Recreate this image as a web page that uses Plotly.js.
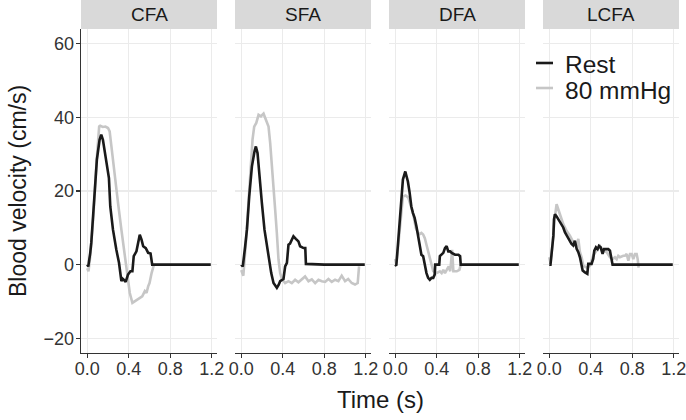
<!DOCTYPE html>
<html>
<head>
<meta charset="utf-8">
<script src="https://cdn.plot.ly/plotly-3.0.1.min.js"></script>
<style>html,body{margin:0;padding:0;background:#fff;}#chart{width:686px;height:420px;}</style>
</head>
<body>
<div id="chart"></div>
<script>
// Panels (facets)
const panels = ["CFA", "SFA", "DFA", "LCFA"];
const seriesNames = ["Rest", "80 mmHg"];

// CFA
const cfaRestT = [0, 0.01, 0.029, 0.039, 0.054, 0.071, 0.093, 0.119, 0.135, 0.151, 0.168, 0.184, 0.209, 0.222, 0.248, 0.28, 0.306, 0.329, 0.34, 0.351, 0.37, 0.393, 0.416, 0.435, 0.448, 0.474, 0.494, 0.506, 0.523, 0.539, 0.564, 0.587, 0.61, 0.62, 0.626, 0.8, 1.0, 1.19];
const cfaRestV = [0, -0.5, 3.2, 5.9, 12.2, 19.5, 28.5, 33.9, 35.3, 33.9, 30.5, 27.6, 23.5, 15.8, 9.5, 4.1, 0.5, -4.5, -3.8, -4.1, -4.7, -2.7, -1.8, -1.8, 2.3, 3.6, 6.8, 8.1, 6.8, 5.0, 4.5, 3.2, 3.0, 0.5, 0, 0, 0, 0];
const cfa80T = [0, 0.012, 0.03, 0.06, 0.09, 0.105, 0.115, 0.125, 0.15, 0.175, 0.2, 0.216, 0.232, 0.264, 0.297, 0.329, 0.361, 0.387, 0.41, 0.435, 0.458, 0.48, 0.506, 0.53, 0.555, 0.571, 0.587, 0.6, 0.62, 0.64];
const cfa80V = [-1.0, -1.8, 2.5, 13.5, 28.0, 34.0, 37.5, 37.7, 37.4, 37.5, 37.1, 36.2, 32.1, 24.9, 16.7, 9.5, 3.2, -2.3, -7.7, -10.4, -10.0, -9.5, -9.1, -8.6, -7.2, -7.7, -5.9, -5.0, -2.3, -0.3];

// SFA
const sfaRestT = [0, 0.015, 0.038, 0.055, 0.077, 0.103, 0.128, 0.141, 0.157, 0.176, 0.199, 0.224, 0.257, 0.289, 0.311, 0.343, 0.36, 0.375, 0.407, 0.423, 0.44, 0.455, 0.47, 0.487, 0.503, 0.526, 0.551, 0.567, 0.6, 0.617, 0.623, 0.8, 1.0, 1.19];
const sfaRestV = [0, -0.5, 5.0, 9.5, 18.5, 26.7, 30.8, 32.1, 30.3, 23.1, 16.7, 9.5, 3.2, -2.3, -5.0, -6.3, -5.5, -4.5, -3.9, -0.5, 0.5, 5.4, 5.7, 7.0, 7.7, 7.0, 6.3, 5.0, 4.5, 4.5, 0.2, 0, 0, 0];
const sfa80T = [0, 0.02, 0.045, 0.07, 0.09, 0.109, 0.125, 0.145, 0.167, 0.19, 0.215, 0.24, 0.263, 0.279, 0.295, 0.311, 0.327, 0.343, 0.359, 0.375, 0.391, 0.423, 0.455, 0.487, 0.519, 0.551, 0.583, 0.615, 0.648, 0.68, 0.712, 0.744, 0.776, 0.808, 0.84, 0.872, 0.904, 0.936, 0.968, 1.0, 1.03, 1.064, 1.096, 1.122, 1.135];
const sfa80V = [-1.5, -3.0, 6, 17, 26, 34, 37.5, 38.5, 40.7, 40.3, 41.0, 39.0, 37.5, 33.0, 27.6, 21.3, 14.9, 8.6, 1.4, -2.3, -3.9, -5.0, -4.5, -5.0, -4.1, -4.8, -4.1, -3.2, -4.5, -4.0, -5.0, -4.1, -4.5, -4.7, -3.9, -4.7, -4.1, -4.5, -3.0, -4.5, -3.9, -5.0, -5.4, -5.0, -0.5];

// DFA
const dfaRestT = [0, 0.01, 0.025, 0.042, 0.058, 0.074, 0.097, 0.122, 0.139, 0.155, 0.171, 0.187, 0.204, 0.22, 0.236, 0.252, 0.269, 0.285, 0.301, 0.317, 0.333, 0.35, 0.366, 0.38, 0.385, 0.398, 0.424, 0.43, 0.463, 0.479, 0.495, 0.511, 0.528, 0.544, 0.56, 0.576, 0.609, 0.625, 0.631, 0.8, 1.0, 1.19];
const dfaRestV = [0, -0.3, 5.0, 12.2, 18.5, 23.1, 25.3, 22.6, 19.5, 15.8, 14.0, 12.7, 10.4, 8.0, 5.4, 2.7, 2.3, -0.5, -2.3, -3.6, -4.1, -3.6, -3.6, -2.7, 0, 0, 0, 2.3, 3.2, 4.5, 5.0, 3.6, 3.6, 3.2, 3.0, 2.7, 2.7, 2.3, 0, 0, 0, 0];
const dfa80T = [0, 0.01, 0.03, 0.05, 0.074, 0.1, 0.126, 0.155, 0.175, 0.198, 0.22, 0.236, 0.252, 0.269, 0.285, 0.301, 0.317, 0.333, 0.35, 0.366, 0.398, 0.43, 0.447, 0.463, 0.479, 0.495, 0.515, 0.53, 0.548, 0.56, 0.593, 0.618, 0.631];
const dfa80V = [1.5, 0, 5.5, 12, 18.5, 18.8, 18.2, 15.5, 13.5, 10.0, 8.6, 8.3, 8.6, 8.2, 7.2, 5.4, 3.6, 1.8, -0.5, -1.8, -2.3, -1.8, -2.3, -1.4, -2.3, -1.4, -0.5, -1.8, 4.0, -1.8, -1.8, -1.4, 0];

// LCFA
const lcfaRestT = [0, 0.012, 0.024, 0.04, 0.046, 0.055, 0.071, 0.087, 0.103, 0.119, 0.135, 0.151, 0.167, 0.183, 0.199, 0.215, 0.231, 0.247, 0.264, 0.28, 0.296, 0.312, 0.322, 0.344, 0.367, 0.376, 0.408, 0.424, 0.434, 0.45, 0.466, 0.479, 0.495, 0.514, 0.527, 0.547, 0.569, 0.585, 0.601, 0.61, 0.8, 1.0, 1.19];
const lcfaRestV = [0, 0, 3.3, 7.8, 12.3, 13.7, 13.1, 12.4, 11.5, 11.0, 10.1, 8.8, 7.9, 7.0, 6.1, 5.6, 5.2, 6.5, 4.3, 3.4, 2.0, 0.2, -1.6, -2.1, -2.5, 0.2, 0.2, 1.6, 3.8, 4.7, 4.2, 5.1, 4.7, 2.9, 4.2, 4.2, 4.2, 3.8, 0.6, 0, 0, 0, 0];
const lcfa80T = [0, 0.012, 0.03, 0.05, 0.071, 0.087, 0.103, 0.135, 0.167, 0.199, 0.231, 0.264, 0.28, 0.296, 0.312, 0.328, 0.36, 0.392, 0.424, 0.456, 0.488, 0.52, 0.553, 0.585, 0.61, 0.633, 0.65, 0.665, 0.681, 0.713, 0.729, 0.746, 0.762, 0.778, 0.794, 0.81, 0.826, 0.842, 0.852, 0.861];
const lcfa80V = [2.0, 0.5, 5, 12, 16.4, 15.1, 13.7, 11.0, 9.2, 7.9, 6.1, 5.2, 7.0, 3.4, 2.0, -0.3, -0.8, -0.3, 2.5, 3.8, 5.1, 3.8, 3.4, 2.0, 1.5, 2.0, 1.5, 2.4, 2.0, 2.4, 2.4, 2.9, 1.1, 2.9, 2.9, 1.5, 2.9, 2.9, 1.5, -0.8];

// Axis ticks
const xTicks = [0, 0.4, 0.8, 1.2];
const yTicks = [-20, 0, 20, 40, 60];

const restData = [[cfaRestT, cfaRestV], [sfaRestT, sfaRestV], [dfaRestT, dfaRestV], [lcfaRestT, lcfaRestV]];
const highData = [[cfa80T, cfa80V], [sfa80T, sfa80V], [dfa80T, dfa80V], [lcfa80T, lcfa80V]];

const FONT = "'Liberation Sans', Arial, sans-serif";
const restColor = "#1a1a1a";
const highColor = "#c6c6c6";
const seriesColors = [restColor, highColor];
const gridColor = "#ebebeb";

const W = 686, H = 420;
const M = {l: 81, r: 7, t: 29, b: 67};
const pw = W - M.l - M.r, ph = H - M.t - M.b;
const panelPx = [[81, 217], [235, 371], [389, 525], [543, 679]];
const domains = panelPx.map(p => [(p[0] - M.l) / pw, (p[1] - M.l) / pw]);
const px2x = px => (px - M.l) / pw;
const py2y = py => 1 - (py - M.t) / ph;

const traces = [];
panels.forEach((p, i) => {
  const xa = i === 0 ? "x" : "x" + (i + 1);
  const ya = i === 0 ? "y" : "y" + (i + 1);
  traces.push({
    x: highData[i][0], y: highData[i][1], xaxis: xa, yaxis: ya,
    type: "scatter", mode: "lines", name: seriesNames[1], showlegend: false,
    line: {color: highColor, width: 2.6}
  });
});
panels.forEach((p, i) => {
  const xa = i === 0 ? "x" : "x" + (i + 1);
  const ya = i === 0 ? "y" : "y" + (i + 1);
  traces.push({
    x: restData[i][0], y: restData[i][1], xaxis: xa, yaxis: ya,
    type: "scatter", mode: "lines", name: seriesNames[0], showlegend: false,
    line: {color: restColor, width: 2.6}
  });
});

const layout = {
  width: W, height: H,
  margin: M,
  paper_bgcolor: "#fff", plot_bgcolor: "#fff",
  font: {family: FONT, color: "#333", size: 18},
  showlegend: false,
  shapes: [], annotations: []
};

panels.forEach((p, i) => {
  const sx = i === 0 ? "" : String(i + 1);
  layout["xaxis" + sx] = {
    domain: domains[i], anchor: "y" + sx, range: [-0.06, 1.25],
    tickvals: xTicks, tickformat: ".1f",
    showgrid: true, gridcolor: gridColor, gridwidth: 1.2, zeroline: false,
    showline: true, linecolor: "#333", linewidth: 1.3,
    ticks: "outside", ticklen: 4, tickcolor: "#333", tickwidth: 1.2,
    ticklabelstandoff: -5, ticklabeloverflow: "allow",
    tickfont: {size: 18, color: "#333", family: FONT}, fixedrange: true
  };
  const yax = {
    domain: [0, 1], anchor: "x" + sx, range: [-24, 64],
    tickvals: yTicks,
    showgrid: true, gridcolor: gridColor, gridwidth: 1.2, zeroline: false,
    fixedrange: true
  };
  if (i === 0) {
    Object.assign(yax, {
      showline: true, linecolor: "#333", linewidth: 1.3,
      ticks: "outside", ticklen: 4, tickcolor: "#333", tickwidth: 1.2,
      ticklabelstandoff: -2,
      tickfont: {size: 18, color: "#333", family: FONT},
      title: {text: "Blood velocity (cm/s)", font: {size: 23, color: "#1a1a1a", family: FONT}, standoff: 10}
    });
  } else {
    Object.assign(yax, {matches: "y", showline: false, showticklabels: false, ticks: ""});
  }
  layout["yaxis" + sx] = yax;

  // facet strip
  layout.shapes.push({
    type: "rect", xref: "paper", yref: "paper",
    x0: domains[i][0], x1: domains[i][1], y0: 1, y1: 1 + M.t / ph,
    fillcolor: "#d9d9d9", line: {width: 0}, layer: "below"
  });
  layout.annotations.push({
    text: p, xref: "paper", yref: "paper",
    x: (domains[i][0] + domains[i][1]) / 2, y: 1 + (M.t / 2) / ph,
    xanchor: "center", yanchor: "middle", showarrow: false,
    font: {size: 19, color: "#1a1a1a", family: FONT}
  });
});

// Legend (keys + labels) inside the LCFA panel
const legendY = [63, 88];
seriesNames.forEach((name, k) => {
  layout.shapes.push({
    type: "line", xref: "paper", yref: "paper",
    x0: px2x(536), x1: px2x(553), y0: py2y(legendY[k]), y1: py2y(legendY[k]),
    line: {color: seriesColors[k], width: 2.6}
  });
  layout.annotations.push({
    text: name, xref: "paper", yref: "paper",
    x: px2x(563), y: py2y(legendY[k] + (k === 0 ? 1 : 3)), xanchor: "left", yanchor: "middle",
    showarrow: false, font: {size: 24.5, color: "#1a1a1a", family: FONT}
  });
});

layout.annotations.push({
  text: "Time (s)", xref: "paper", yref: "paper",
  x: 0.5, y: py2y(399), xanchor: "center", yanchor: "middle", showarrow: false,
  font: {size: 24, color: "#1a1a1a", family: FONT}
});

Plotly.newPlot("chart", traces, layout, {displayModeBar: false, staticPlot: true});
</script>
</body>
</html>
